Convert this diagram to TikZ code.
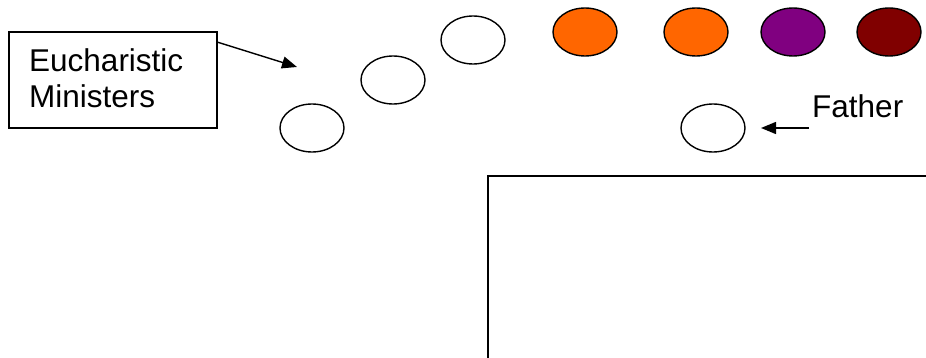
\documentclass[tikz,border=0pt]{standalone}
\usepackage{fontspec}
\setmainfont{Liberation Sans}
\usetikzlibrary{shapes.geometric,arrows.meta}
\begin{document}
\begin{tikzpicture}[x=1pt,y=-1pt,
  person/.style={draw=black,line width=1.4pt,ellipse,minimum width=64pt,minimum height=48pt,inner sep=0pt},
  label/.style={font=\fontsize{31.5}{36}\selectfont,inner sep=0pt},
  pointer/.style={line width=1.4pt,-{Triangle[length=15pt,width=12pt]}}]
\useasboundingbox (0,0) rectangle (926,358);
\node[draw=black,line width=1.4pt,minimum width=208pt,minimum height=96pt,inner sep=0pt] (box) at (113,80) {};
\node[label,anchor=base west] (t1) at (29,72) {Eucharistic};
\node[label,anchor=base west] (t2) at (29,108) {Ministers};
\node[person] (e1) at (312,128) {};
\node[person] (e2) at (393,80) {};
\node[person] (e3) at (473,40) {};
\node[person,fill={rgb,255:red,255;green,102;blue,0}] (o1) at (585,32) {};
\node[person,fill={rgb,255:red,255;green,102;blue,0}] (o2) at (696,32) {};
\node[person,fill={rgb,255:red,128;green,0;blue,128}] (p1) at (793,32) {};
\node[person,fill={rgb,255:red,128;green,0;blue,0}] (r1) at (889,32) {};
\node[person] (f) at (713,128) {};
\node[label,anchor=base west] (father) at (812,118) {Father};
\coordinate (a1s) at (217,42);
\coordinate (a1e) at (297,67);
\draw[pointer] (a1s) -- (a1e);
\coordinate (a2s) at (809,128);
\coordinate (a2e) at (761,128);
\draw[pointer] (a2s) -- (a2e);
\coordinate (c1) at (488,358);
\coordinate (c2) at (488,176);
\coordinate (c3) at (926,176);
\draw[line width=2pt] (c1) -- (c2) -- (c3);
\end{tikzpicture}
\end{document}
